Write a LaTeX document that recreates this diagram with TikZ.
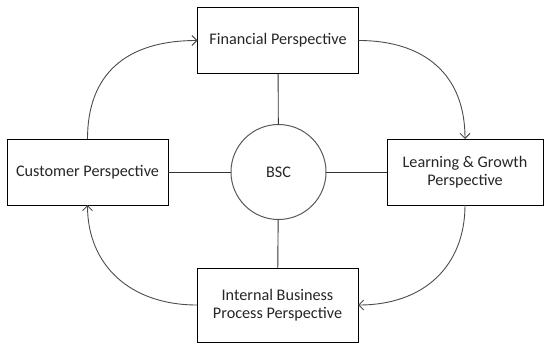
\documentclass[tikz,border=0pt]{standalone}
\usepackage{fontspec}
\setmainfont{Carlito}
\usetikzlibrary{arrows.meta}
\begin{document}
\begin{tikzpicture}[x=1pt,y=-1pt,
  persp/.style={draw=black,line width=0.9pt,fill=white,align=center,
    inner sep=0pt,outer sep=0pt,minimum width=161pt,minimum height=66pt,
    font=\fontsize{16.2}{17.5}\selectfont,text=black!85},
  hub/.style={circle,draw=black!65,line width=1pt,fill=white,inner sep=0pt,
    outer sep=0pt,minimum size=95pt,font=\fontsize{16.2}{17.5}\selectfont,text=black!85},
  spoke/.style={draw=black!80,line width=0.9pt},
  cycle/.style={draw=black!70,line width=0.9pt,-{Straight Barb[length=5pt,width=10pt]}}]
\useasboundingbox (0,0) rectangle (545,343);
\node[hub] (bsc) at (278.5,172) {BSC};
\node[persp] (fin) at (278,40.5) {Financial Perspective};
\node[persp] (cus) at (87.5,172) {Customer Perspective};
\node[persp,minimum width=156pt] (lrn) at (465,172) {Learning \& Growth\\Perspective};
\node[persp,minimum height=74pt] (ibp) at (277.5,305) {Internal Business\\Process Perspective};
% spokes from the hub
\draw[spoke] (bsc) -- (fin);
\draw[spoke] (bsc) -- (cus);
\draw[spoke] (bsc) -- (lrn);
\draw[spoke] (bsc) -- (ibp);
% clockwise cycle
\draw[cycle] (cus.north) .. controls (87.5,75) and (125,40.5) .. (fin.west);
\draw[cycle] (fin.east) .. controls (425,40.5) and (465,75) .. (lrn.north);
\draw[cycle] (lrn.south) .. controls (465,265) and (425,305) .. (ibp.east);
\draw[cycle] (ibp.west) .. controls (130,305) and (87.5,265) .. (cus.south);
\end{tikzpicture}
\end{document}
